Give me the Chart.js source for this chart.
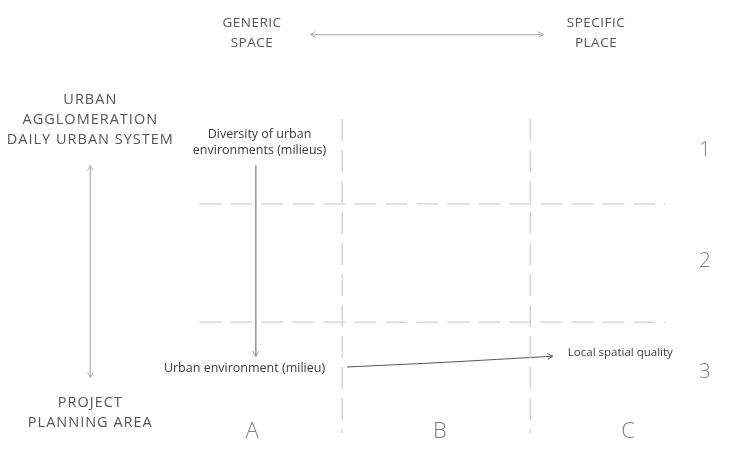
<!DOCTYPE html>
<html>
<head>
<meta charset="utf-8">
<script src="https://cdn.jsdelivr.net/npm/chart.js@4.4.1/dist/chart.umd.min.js"></script>
<style>
  html, body { margin: 0; padding: 0; background: #fff; }
  #wrap { width: 732px; height: 468px; }
</style>
</head>
<body>
<div id="wrap"><canvas id="diagram"></canvas></div>
<script>
// Grid: columns A,B,C sit at x = 1,2,3 and rows 1,2,3 at y = 1,2,3
const columnLabels = ['A', 'B', 'C'];
const rowLabels = ['1', '2', '3'];
const columnDividers = [1.48, 2.48];
const rowDividers = [1.486, 2.55];
const dividerSpanY = [0.72, 3.55];
const dividerSpanX = [0.72, 3.2];

// Arrows, as [x, y] points in column / row units
const scaleArrowTop = [[1.31, -0.04], [2.55, -0.04]];
const scaleArrowLeft = [[0.14, 1.14], [0.14, 3.05]];
const milieuArrow = [[1.02, 1.14], [1.02, 2.86]];
const qualityLink = [[1.505, 2.955], [2.0, 2.915], [2.6, 2.858]];

// Text blocks: [x, y, lines]
const topTexts = [
    [1.0, -0.144, ['GENERIC', 'SPACE']],
    [2.83, -0.144, ['SPECIFIC', 'PLACE']]
];
const leftTexts = [
    [0.14, 0.55, ['URBAN', 'AGGLOMERATION', 'DAILY URBAN SYSTEM']],
    [0.14, 3.28, ['PROJECT', 'PLANNING AREA']]
];
const noteTexts = [
    [1.04, 0.86, ['Diversity of urban', 'environments (milieus)']],
    [0.96, 2.965, ['Urban environment (milieu)']]
];
const sideNote = [2.68, 2.83, 'Local spatial quality'];
const columnLabelY = 3.54;
const rowLabelX = 3.41;

function pts(list) {
    return list.map(p => ({ x: p[0], y: p[1] }));
}

const datasets = [];
columnDividers.forEach(x => {
    datasets.push({
        data: [{ x: x, y: dividerSpanY[0] }, { x: x, y: dividerSpanY[1] }],
        borderColor: '#cfcfcf', borderWidth: 1.3, borderDash: [22, 9]
    });
});
rowDividers.forEach(y => {
    datasets.push({
        data: [{ x: dividerSpanX[0], y: y }, { x: dividerSpanX[1], y: y }],
        borderColor: '#cfcfcf', borderWidth: 1.3, borderDash: [22, 9]
    });
});
datasets.push({ data: pts(scaleArrowTop), borderColor: '#b5b5b5', borderWidth: 1.3, arrows: 'both' });
datasets.push({ data: pts(scaleArrowLeft), borderColor: '#b5b5b5', borderWidth: 1.3, arrows: 'both' });
datasets.push({ data: pts(milieuArrow), borderColor: '#999999', borderWidth: 1, arrows: 'end' });
datasets.push({ data: pts(qualityLink), borderColor: '#555555', borderWidth: 1, arrows: 'end', tension: 0.3 });

datasets.forEach(ds => {
    ds.showLine = true;
    ds.pointRadius = 0;
    ds.pointHoverRadius = 0;
    ds.fill = false;
});

function drawHead(ctx, from, to, color) {
    const ang = Math.atan2(to.y - from.y, to.x - from.x);
    const len = 6;
    ctx.save();
    ctx.strokeStyle = color;
    ctx.lineWidth = 1;
    ctx.beginPath();
    ctx.moveTo(to.x - len * Math.cos(ang - 0.5), to.y - len * Math.sin(ang - 0.5));
    ctx.lineTo(to.x, to.y);
    ctx.lineTo(to.x - len * Math.cos(ang + 0.5), to.y - len * Math.sin(ang + 0.5));
    ctx.stroke();
    ctx.restore();
}

const labelsPlugin = {
    id: 'diagramLabels',
    afterDatasetsDraw(chart) {
        const ctx = chart.ctx;
        const xs = chart.scales.x;
        const ys = chart.scales.y;
        const px = v => xs.getPixelForValue(v);
        const py = v => ys.getPixelForValue(v);

        // arrow heads
        chart.data.datasets.forEach(ds => {
            if (!ds.arrows) return;
            const d = ds.data.map(p => ({ x: px(p.x), y: py(p.y) }));
            const n = d.length;
            drawHead(ctx, d[n - 2], d[n - 1], ds.borderColor);
            if (ds.arrows === 'both') drawHead(ctx, d[1], d[0], ds.borderColor);
        });

        ctx.save();
        ctx.textAlign = 'center';
        ctx.textBaseline = 'middle';

        ctx.fillStyle = '#555';
        ctx.letterSpacing = '0.5px';
        ctx.font = '13.5px "Open Sans"';
        topTexts.forEach(t => {
            t[2].forEach((line, i) => ctx.fillText(line, px(t[0]), py(t[1]) + i * 20));
        });

        ctx.letterSpacing = '1px';
        ctx.font = '14.5px "Open Sans"';
        leftTexts.forEach(t => {
            t[2].forEach((line, i) => ctx.fillText(line, px(t[0]), py(t[1]) + i * 20));
        });
        ctx.letterSpacing = '0px';

        ctx.fillStyle = '#3a3a3a';
        ctx.font = '12.5px "Open Sans"';
        noteTexts.forEach(t => {
            t[2].forEach((line, i) => ctx.fillText(line, px(t[0]), py(t[1]) + i * 16));
        });
        ctx.font = '11.5px "Open Sans"';
        ctx.textAlign = 'left';
        ctx.fillText(sideNote[2], px(sideNote[0]), py(sideNote[1]));

        ctx.textAlign = 'center';
        ctx.fillStyle = '#808080';
        ctx.font = '300 22px "Open Sans"';
        columnLabels.forEach((l, i) => ctx.fillText(l, px(i + 1), py(columnLabelY)));
        ctx.font = '300 20px "Open Sans"';
        rowLabels.forEach((l, i) => ctx.fillText(l, px(rowLabelX), py(i + 1)));
        ctx.restore();
    }
};

new Chart(document.getElementById('diagram'), {
    type: 'scatter',
    data: { datasets: datasets },
    options: {
        responsive: true,
        maintainAspectRatio: false,
        animation: false,
        layout: { padding: 0 },
        plugins: {
            legend: { display: false },
            tooltip: { enabled: false }
        },
        scales: {
            // 188 px per column, 111 px per row
            x: { type: 'linear', display: false, min: -64 / 188, max: (732 - 64) / 188 },
            y: { type: 'linear', display: false, reverse: true, min: -39 / 111, max: (468 - 39) / 111 }
        }
    },
    plugins: [labelsPlugin]
});
</script>
</body>
</html>
